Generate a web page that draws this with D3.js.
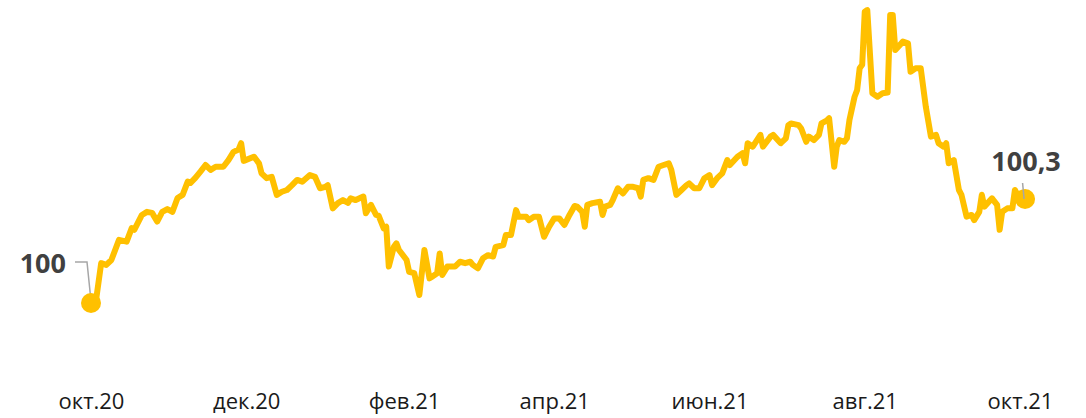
<!DOCTYPE html>
<html>
<head>
<meta charset="utf-8">
<script src="https://cdn.jsdelivr.net/npm/d3@7"></script>
<style>
  body { margin: 0; background: #fff; }
  svg { display: block; }
</style>
</head>
<body>
<svg width="1086" height="418"></svg>
<script>
// days since 01.10.2020 and index value
const days = [0, 2, 4, 6, 8, 11, 14, 16, 17, 20, 22, 24, 26, 28, 30, 32, 34, 36, 38, 39,
	41, 43, 45, 47, 49, 52, 54, 56, 58, 59, 60, 64, 66, 67, 69, 71, 73, 75, 77, 79,
	81, 83, 86, 88, 90, 92, 93, 95, 97, 99, 101, 102, 104, 107, 108, 110, 112, 113, 115, 116,
	117, 119, 120, 121, 124, 125, 127, 129, 131, 133, 134, 136, 137, 138, 140, 143, 145, 147, 149, 150,
	152, 154, 156, 158, 159, 162, 163, 165, 167, 168, 171, 172, 174, 176, 178, 180, 182, 184, 186, 188,
	190, 191, 193, 194, 195, 197, 200, 201, 202, 204, 205, 207, 209, 211, 213, 215, 216, 217, 219, 221,
	223, 225, 227, 228, 230, 232, 234, 235, 237, 239, 241, 243, 244, 246, 248, 250, 251, 254, 256, 257,
	258, 260, 263, 264, 267, 268, 271, 273, 274, 275, 278, 279, 281, 282, 284, 286, 287, 289, 290, 292,
	293, 294, 296, 297, 298, 300, 301, 302, 303, 304, 305, 307, 309, 311, 313, 314, 315, 316, 319, 321,
	322, 324, 326, 328, 330, 332, 333, 335, 336, 337, 339, 341, 342, 344, 346, 347, 349, 350, 351, 354,
	356, 357, 358, 360, 362, 363, 364, 365, 367];
const values = [100.000, 100.009, 100.115, 100.110, 100.124, 100.182, 100.177, 100.216, 100.211, 100.254,
	100.263, 100.260, 100.235, 100.263, 100.271, 100.263, 100.303, 100.312, 100.350, 100.346,
	100.361, 100.379, 100.398, 100.384, 100.393, 100.393, 100.412, 100.436, 100.443, 100.461,
	100.410, 100.422, 100.403, 100.374, 100.360, 100.364, 100.312, 100.321, 100.326, 100.340,
	100.355, 100.350, 100.369, 100.364, 100.331, 100.335, 100.340, 100.273, 100.288, 100.297,
	100.289, 100.302, 100.297, 100.307, 100.259, 100.283, 100.254, 100.252, 100.215, 100.220,
	100.105, 100.162, 100.172, 100.153, 100.124, 100.090, 100.086, 100.023, 100.153, 100.071,
	100.076, 100.086, 100.143, 100.081, 100.105, 100.105, 100.119, 100.115, 100.119, 100.110,
	100.100, 100.129, 100.138, 100.134, 100.162, 100.167, 100.196, 100.196, 100.268, 100.249,
	100.249, 100.239, 100.249, 100.249, 100.191, 100.220, 100.244, 100.244, 100.225, 100.254,
	100.280, 100.278, 100.263, 100.220, 100.283, 100.288, 100.292, 100.254, 100.278, 100.283,
	100.297, 100.331, 100.316, 100.335, 100.335, 100.331, 100.307, 100.355, 100.360, 100.355,
	100.393, 100.398, 100.403, 100.384, 100.312, 100.326, 100.340, 100.345, 100.331, 100.331,
	100.360, 100.369, 100.340, 100.360, 100.374, 100.412, 100.398, 100.422, 100.432, 100.403,
	100.461, 100.451, 100.485, 100.451, 100.480, 100.485, 100.461, 100.475, 100.513, 100.518,
	100.513, 100.504, 100.465, 100.480, 100.470, 100.485, 100.518, 100.526, 100.533, 100.393,
	100.451, 100.470, 100.465, 100.475, 100.528, 100.595, 100.614, 100.677, 100.687, 100.840,
	100.845, 100.605, 100.595, 100.605, 100.607, 100.831, 100.831, 100.730, 100.754, 100.749,
	100.667, 100.677, 100.677, 100.566, 100.480, 100.485, 100.461, 100.451, 100.461, 100.403,
	100.412, 100.326, 100.312, 100.249, 100.254, 100.239, 100.263, 100.312, 100.278, 100.302,
	100.283, 100.211, 100.263, 100.273, 100.273, 100.326, 100.312, 100.316, 100.300];
const tickDays = [0, 61, 123, 182, 243, 304, 365];
const tickLabels = ["окт.20", "дек.20", "фев.21", "апр.21", "июн.21", "авг.21", "окт.21"];
const startLabel = "100";
const endLabel = "100,3";

const svg = d3.select("svg");
const t0 = new Date(2020, 9, 1);
const toDate = (d) => d3.timeDay.offset(t0, d);

const data = days.map((d, i) => ({ date: toDate(d), value: values[i] }));

const x = d3.scaleTime()
	.domain([t0, toDate(365)])
	.range([91, 1020]);
const y = d3.scaleLinear()
	.domain([100, 100.3])
	.range([303, 199]);

// x axis, labels only
const axis = svg.append("g")
	.attr("transform", "translate(0,380)")
	.call(d3.axisBottom(x)
		.tickValues(tickDays.map(toDate))
		.tickFormat((d, i) => tickLabels[i])
		.tickSize(0));
axis.select(".domain").remove();
axis.selectAll("text")
	.attr("y", 0)
	.attr("dy", 28.5)
	.attr("font-family", "Open Sans, sans-serif")
	.attr("font-size", "22px")
	.attr("fill", "#1a1a1a");

// leader lines
const first = data[0];
const last = data[data.length - 1];
svg.append("path")
	.attr("fill", "none")
	.attr("stroke", "#a6a6a6")
	.attr("stroke-width", 1.5)
	.attr("d", "M" + (x(first.date) - 16) + "," + (y(first.value) - 41) +
		"H" + (x(first.date) - 4) + "L" + x(first.date) + "," + (y(first.value) - 2));

svg.append("path")
	.datum(data)
	.attr("fill", "none")
	.attr("stroke", "#FFC000")
	.attr("stroke-width", 6)
	.attr("stroke-linejoin", "round")
	.attr("stroke-linecap", "round")
	.attr("d", d3.line().x((d) => x(d.date)).y((d) => y(d.value)));

svg.selectAll("circle.end")
	.data([first, last])
	.join("circle")
	.attr("class", "end")
	.attr("cx", (d) => x(d.date))
	.attr("cy", (d) => y(d.value))
	.attr("r", 10)
	.attr("fill", "#FFC000");

svg.append("line")
	.attr("stroke", "#a6a6a6")
	.attr("stroke-width", 1.5)
	.attr("x1", x(last.date) - 2.5)
	.attr("y1", y(last.value) - 16)
	.attr("x2", x(last.date) - 1)
	.attr("y2", y(last.value));

svg.append("text")
	.attr("x", x(first.date) - 25)
	.attr("y", y(first.value) - 30)
	.attr("text-anchor", "end")
	.attr("font-family", "Open Sans, sans-serif")
	.attr("font-weight", "bold")
	.attr("font-size", "27px")
	.attr("fill", "#404040")
	.text(startLabel);

svg.append("text")
	.attr("x", x(last.date) + 1)
	.attr("y", y(last.value) - 28)
	.attr("text-anchor", "middle")
	.attr("font-family", "Open Sans, sans-serif")
	.attr("font-weight", "bold")
	.attr("font-size", "27px")
	.attr("fill", "#404040")
	.text(endLabel);
</script>
</body>
</html>
